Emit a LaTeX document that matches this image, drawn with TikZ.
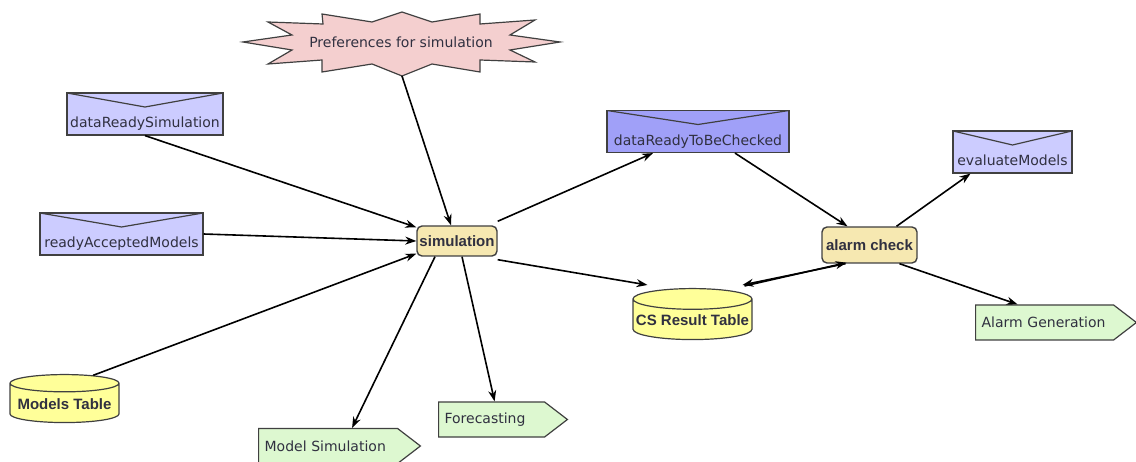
\documentclass[tikz,border=0pt]{standalone}
\usepackage{fontspec}
\setmainfont{DejaVu Sans}
\newfontfamily\boldfam{Liberation Sans}
\usetikzlibrary{shapes.geometric,shapes.symbols,arrows.meta}
\definecolor{pinkfill}{HTML}{F4CFCF}
\definecolor{lavfill}{HTML}{CCCCFF}
\definecolor{lavdark}{HTML}{A0A0F8}
\definecolor{beige}{HTML}{F6E8B1}
\definecolor{yel}{HTML}{FFFF99}
\definecolor{grn}{HTML}{DDF8D0}
\definecolor{bord}{HTML}{404040}
\definecolor{txt}{HTML}{303040}
\tikzset{
  lbl/.style={font=\fontsize{14}{16}\selectfont, text=txt},
  boldlbl/.style={font=\boldfam\fontsize{15}{17}\selectfont\bfseries, text=txt},
  envbox/.style={lbl, draw=bord, line width=1.2pt, fill=lavfill, inner xsep=1pt, inner ysep=3pt, text height=32pt, text depth=4pt,
    path picture={\draw[bord, line width=1.2pt] (path picture bounding box.north west) -- ([yshift=-14pt]path picture bounding box.north) -- (path picture bounding box.north east);}},
  proc/.style={boldlbl, draw=bord, line width=1.4pt, fill=beige, rounded corners=5pt, inner xsep=2pt},
  db/.style={boldlbl, cylinder, shape border rotate=90, aspect=0.18, draw=bord, line width=1.2pt, fill=yel, inner xsep=1pt},
  tag/.style={lbl, signal, signal to=east, signal from=nowhere, signal pointer angle=75, draw=bord, line width=1.2pt, fill=grn, minimum height=35pt, inner xsep=6pt, align=left, anchor=west},
  arr/.style={-{Stealth[length=11pt,width=8pt]}, line width=1.6pt, black},
}
\begin{document}
\begin{tikzpicture}[x=1pt,y=-1pt]
\useasboundingbox (0,0) rectangle (1136,462);
% star
\filldraw[fill=pinkfill, draw=bord, line width=1.2pt]
 (243,42) -- (292,35) -- (268,22) -- (323,24) -- (322,14) -- (372,22) -- (402,12) -- (432,22) -- (480,14) -- (480,24) -- (535,20) -- (510,35) -- (560,42) -- (510,50) -- (535,62) -- (480,60) -- (480,72) -- (432,64) -- (402,76) -- (372,64) -- (322,72) -- (322,60) -- (268,64) -- (292,50) -- cycle;
\node[lbl] (pref) at (401,42) {Preferences for simulation};
\coordinate (prefb) at (402,76);

\node[envbox, minimum width=156pt] (drs) at (145,114) {dataReadySimulation};
\node[envbox, minimum width=163pt] (ram) at (121.5,234) {readyAcceptedModels};
\node[db, minimum width=109pt, minimum height=48pt] (mt) at (64.5,404) {Models Table};
\node[proc, minimum width=80pt, minimum height=30pt] (sim) at (457,241) {simulation};
\node[envbox, fill=lavdark, minimum width=182pt] (drc) at (698,131.5) {dataReadyToBeChecked};
\node[proc, minimum width=95pt, minimum height=36pt] (ac) at (869.5,245) {alarm check};
\node[envbox, minimum width=119pt] (em) at (1012.5,152) {evaluateModels};
\node[tag, text width=126pt] (ag) at (975,322.5) {Alarm Generation};
\node[db, minimum width=119pt, minimum height=51pt] (cs) at (692.5,320.5) {CS Result Table};
\node[tag, text width=127pt] (ms) at (258,446) {Model Simulation};
\node[tag, text width=94pt] (fc) at (438,419.5) {Forecasting};

\draw[arr] (prefb) -- ([xshift=-6pt]sim.north);
\draw[arr] (drs.south) -- ([yshift=-2pt]sim.north west);
\draw[arr] (ram.east) -- (sim.west);
\draw[arr] (mt.north east) -- ([yshift=3pt]sim.south west);
\draw[arr] ([yshift=4pt]sim.north east) -- ([xshift=-45pt]drc.south);
\draw[arr] ([yshift=-3pt]sim.south east) -- ([xshift=-45pt,yshift=3pt]cs.north);
\draw[arr] ([xshift=-22pt]sim.south) -- ([xshift=24pt]ms.north);
\draw[arr] ([xshift=5pt]sim.south) -- ([xshift=3pt]fc.north);
\draw[arr] ([xshift=37pt]drc.south) -- ([xshift=-22pt]ac.north);
\draw[arr] ([xshift=27pt]ac.north) -- ([xshift=-42pt]em.south);
\draw[arr] ([xshift=30pt]ac.south) -- ([xshift=-27pt]ag.north);
\draw[arr] ([xshift=52pt,yshift=2pt]cs.north) -- ([xshift=-23pt,yshift=1pt]ac.south);
\draw[arr] ([xshift=-24pt]ac.south) -- ([xshift=50pt,yshift=3pt]cs.north);
\end{tikzpicture}
\end{document}
